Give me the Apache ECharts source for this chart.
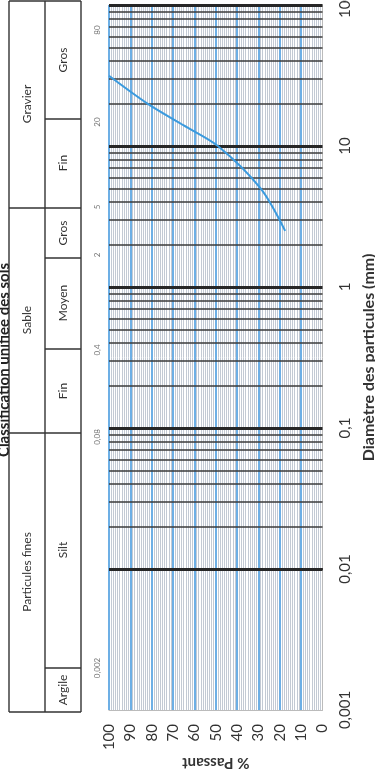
<!DOCTYPE html>
<html><head><meta charset="utf-8">
<script src="https://cdn.jsdelivr.net/npm/echarts@6/dist/echarts.min.js"></script>
<style>html,body{margin:0;padding:0;background:#fff}#c{width:375px;height:775px}</style>
</head><body><div id="c"></div>
<script>
// ---- data ----
const diameters = [31.5, 20, 14, 10, 5, 2.5];      // mm
const passing   = [100, 82, 65, 49, 29, 17.5];     // % passant
const diamTicks = [0.001, 0.01, 0.1, 1, 10, 100];
const passTicks = [0, 10, 20, 30, 40, 50, 60, 70, 80, 90, 100];
const groupLabels = ['Particules fines', 'Sable', 'Gravier'];
const subLabels = ['Argile', 'Silt', 'Fin', 'Moyen', 'Gros', 'Fin', 'Gros'];
const boundaryLabels = ['0,002', '0,08', '0,4', '2', '5', '20', '80'];
const titleText = 'Classification unifiée des sols';

const FONT = 'Lato, "Open Sans", sans-serif';
const chart = echarts.init(document.getElementById('c'), null, {renderer: 'canvas'});

// log grid lines (1..9 x decade)
const majorLines = diamTicks.slice(1);
const minorLines = [];
for (let k = 0; k < diamTicks.length - 1; k++) {
  for (let m = 2; m <= 9; m++) minorLines.push(+(m * diamTicks[k]).toPrecision(3));
}

// ---- table graphic ----
function buildTable() {
  const xL = 9, xM = 45, xR = 81, yT = 1, yB = 712;
  const fullY = [433, 208];
  const innerY = [668, 349, 258, 119];
  const lineStyle = {stroke: '#333', lineWidth: 1.4};
  const g = [];
  const L = (x1, y1, x2, y2) => g.push({type: 'line', shape: {x1, y1, x2, y2}, style: lineStyle, silent: true});
  L(xL, yT, xL, yB); L(xM, yT, xM, yB); L(xR, yT, xR, yB);
  L(xL, yT, xR, yT); L(xL, yB, xR, yB);
  fullY.forEach(y => L(xL, y, xR, y));
  innerY.forEach(y => L(xM, y, xR, y));
  const T = (text, x, y, size, color, weight) => g.push({
    type: 'text', x, y, rotation: Math.PI / 2, silent: true,
    style: {text, fill: color, font: (weight || 'normal') + ' ' + size + 'px ' + FONT, align: 'center', verticalAlign: 'middle'}
  });
  const gY = [572, 320, 104];
  groupLabels.forEach((t, i) => T(t, 27, gY[i], 12, '#333'));
  const sY = [690, 550, 391, 303, 233, 163, 60];
  subLabels.forEach((t, i) => T(t, 63, sY[i], 12, '#333'));
  const bY = [668, 437, 350, 255, 207, 122, 30];
  boundaryLabels.forEach((t, i) => T(t, 97, bY[i], 8, '#777'));
  T(titleText, 4, 360, 15, '#222', 'bold');
  return g;
}

const option = {
  backgroundColor: '#fff',
  animation: false,
  grid: {left: 109, right: 52.5, top: 5, bottom: 65, containLabel: false, outerBoundsMode: 'none'},
  xAxis: {
    type: 'value', min: 0, max: 100, interval: 10, inverse: true, position: 'bottom',
    name: '% Passant', nameLocation: 'middle', nameRotate: 180, nameGap: 45, nameMoveOverlap: false,
    nameTextStyle: {fontFamily: FONT, fontSize: 15, fontWeight: 'bold', color: '#333'},
    axisLine: {show: true, lineStyle: {color: '#bbb', width: 1}},
    axisTick: {show: false},
    axisLabel: {rotate: 90, margin: 14, fontFamily: FONT, fontSize: 15, color: '#333',
      formatter: v => passTicks.includes(v) ? String(v) : ''},
    splitLine: {show: true, showMinLine: false, lineStyle: {color: '#3d94dc', width: 1.5}},
    minorTick: {show: false, splitNumber: 10},
    minorSplitLine: {show: true, lineStyle: {color: '#c3cad4', width: 1}}
  },
  yAxis: {
    type: 'log', logBase: 10, min: 0.001, max: 100, position: 'right',
    name: 'Diamètre des particules (mm)', nameLocation: 'middle', nameRotate: 90, nameGap: 38, nameMoveOverlap: false,
    nameTextStyle: {fontFamily: FONT, fontSize: 16, fontWeight: 'bold', color: '#333'},
    axisLine: {show: true, lineStyle: {color: '#bbb', width: 1}},
    axisTick: {show: false},
    axisLabel: {rotate: 90, margin: 15, fontFamily: FONT, fontSize: 15, color: '#333',
      formatter: v => String(v).replace('.', ',')},
    splitLine: {show: false}
  },
  series: [
    {
      type: 'line', data: [], z: 2, silent: true,
      markLine: {
        silent: true, symbol: ['none', 'none'], label: {show: false}, animation: false,
        data: minorLines.map(v => ({yAxis: v, lineStyle: {color: '#3a3a3a', width: 1.5, type: 'solid'}}))
          .concat(majorLines.map(v => ({yAxis: v, lineStyle: {color: '#262626', width: 3, type: 'solid'}})))
      }
    },
    {
      type: 'line', z: 5, smooth: 0.3, showSymbol: false, silent: true,
      lineStyle: {color: '#3a9ade', width: 2},
      data: diameters.map((d, i) => [passing[i], d])
    }
  ],
  graphic: buildTable()
};
chart.setOption(option);
</script>
</body></html>
